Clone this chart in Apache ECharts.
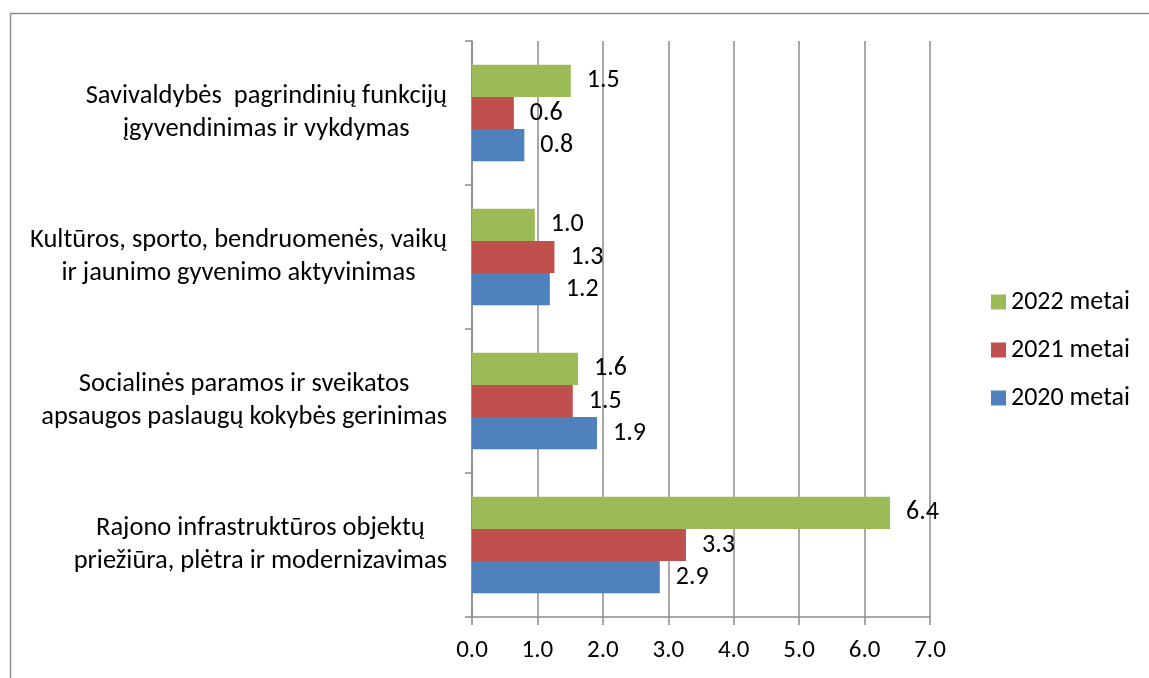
<!DOCTYPE html>
<html>
<head>
<meta charset="utf-8">
<script src="https://cdn.jsdelivr.net/npm/echarts@6/dist/echarts.min.js"></script>
<style>
    html, body {
        margin: 0;
        padding: 0;
        background: #fff;
    }
    #main {
        width: 1149px;
        height: 678px;
    }
</style>
</head>
<body>
<div id="main"></div>
<script type="text/javascript">
    // categories bottom -> top (category axis starts at the bottom)
    var categories = [
        'Rajono infrastruktūros objektų\npriežiūra, plėtra ir modernizavimas',
        'Socialinės paramos ir sveikatos\napsaugos paslaugų kokybės gerinimas',
        'Kultūros, sporto, bendruomenės, vaikų\nir jaunimo gyvenimo aktyvinimas',
        'Savivaldybės  pagrindinių funkcijų\nįgyvendinimas ir vykdymas'
    ];
    var seriesNames = ['2022 metai', '2021 metai', '2020 metai'];
    var values2022 = [6.39, 1.62, 0.96, 1.51];
    var values2021 = [3.27, 1.54, 1.26, 0.64];
    var values2020 = [2.87, 1.91, 1.19, 0.80];
    var xTicks = [0, 1, 2, 3, 4, 5, 6, 7];

    var font = 'Carlito, Lato, sans-serif';
    var fs = 26;

    var myChart = echarts.init(document.getElementById('main'));

    function barSeries(name, data, color) {
        return {
            name: name,
            type: 'bar',
            data: data,
            barGap: '0%',
            barCategoryGap: '33%',
            itemStyle: { color: color },
            label: {
                show: true,
                position: 'right',
                distance: 16,
                color: '#000',
                fontFamily: font,
                fontSize: fs,
                formatter: function (p) { return p.value.toFixed(1); }
            }
        };
    }

    var option = {
        animation: false,
        backgroundColor: '#fff',
        graphic: [{
            type: 'rect',
            left: 8,
            top: 11,
            shape: { width: 1300, height: 800 },
            style: { fill: 'none', stroke: '#8c8c8c', lineWidth: 1.5 },
            silent: true
        }],
        legend: {
            data: seriesNames,
            orient: 'vertical',
            left: 986,
            top: 284,
            itemWidth: 15,
            itemHeight: 15,
            itemGap: 22,
            icon: 'rect',
            textStyle: { fontFamily: font, fontSize: fs, color: '#000' }
        },
        grid: {
            left: 472,
            right: 219,
            top: 41,
            bottom: 61
        },
        xAxis: {
            type: 'value',
            min: xTicks[0],
            max: xTicks[xTicks.length - 1],
            interval: 1,
            axisLine: { show: true, lineStyle: { color: '#8c8c8c', width: 1.5 } },
            axisTick: { show: true, length: 8, lineStyle: { color: '#8c8c8c', width: 1.5 } },
            splitLine: { show: true, lineStyle: { color: '#8c8c8c', width: 1.5 } },
            axisLabel: {
                color: '#000',
                fontFamily: font,
                fontSize: 25,
                margin: 21,
                formatter: function (v) { return v.toFixed(1); }
            }
        },
        yAxis: {
            type: 'category',
            data: categories,
            axisLine: { show: true, lineStyle: { color: '#8c8c8c', width: 1.5 } },
            axisTick: { show: true, length: 7, lineStyle: { color: '#8c8c8c', width: 1.5 } },
            axisLabel: {
                margin: 25,
                align: 'right',
                color: '#000',
                fontFamily: font,
                fontSize: 26.5,
                lineHeight: 33,
                formatter: function (v) {
                    return v.split('\n').map(function (s) { return '{c|' + s + '}'; }).join('\n');
                },
                rich: {
                    c: {
                        align: 'center',
                        color: '#000',
                        fontFamily: font,
                        fontSize: 26.5,
                        lineHeight: 33
                    }
                }
            }
        },
        series: [
            barSeries(seriesNames[0], values2022, '#9BBB59'),
            barSeries(seriesNames[1], values2021, '#C0504D'),
            barSeries(seriesNames[2], values2020, '#4F81BD')
        ]
    };

    myChart.setOption(option);
</script>
</body>
</html>
